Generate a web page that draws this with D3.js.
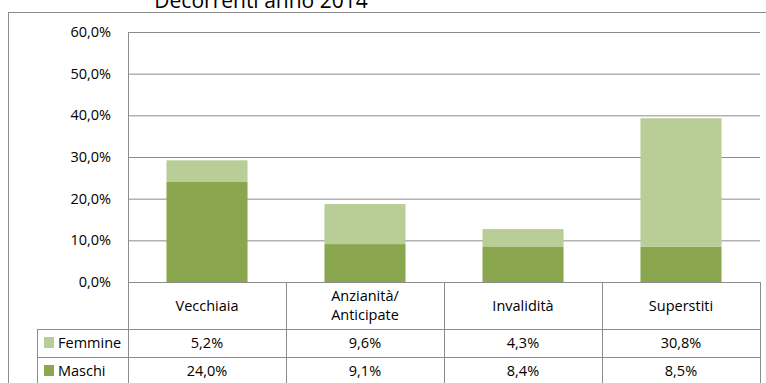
<!DOCTYPE html>
<html>
<head>
<meta charset="utf-8">
<script src="https://cdn.jsdelivr.net/npm/d3@7"></script>
<style>
  html, body { margin: 0; padding: 0; background: #fff; }
  svg text { font-family: "Open Sans", "DejaVu Sans", sans-serif; fill: #000; }
</style>
</head>
<body>
<svg id="chart" width="766" height="383"></svg>
<script>
// Pensioni decorrenti 2014: quota per categoria, suddivisa tra maschi e femmine
const categories = ["Vecchiaia", "Anzianità/\nAnticipate", "Invalidità", "Superstiti"];
const maschi  = [24.0, 9.1, 8.4, 8.5];
const femmine = [5.2, 9.6, 4.3, 30.8];
const yTicks  = [0, 10, 20, 30, 40, 50, 60];
const seriesNames = ["Femmine", "Maschi"];
const titleText = "Decorrenti anno 2014";

const colDark = "#8aa64f";
const colLight = "#b9cd96";
const lineCol = "#8c8c8c";
const fs = 14.5;

const svg = d3.select("#chart");
svg.append("rect").attr("width", 766).attr("height", 383).attr("fill", "#fff");

// outer chart frame (extends past the window edges)
svg.append("rect")
  .attr("x", 8.5).attr("y", 12.5).attr("width", 820).attr("height", 420)
  .attr("fill", "none").attr("stroke", lineCol).attr("stroke-width", 1);

svg.append("text")
  .attr("x", 261).attr("y", 7.5)
  .attr("text-anchor", "middle")
  .attr("font-size", 21)
  .text(titleText);

const plotL = 128, plotR = 760, plotT = 32, plotB = 282;
const fmt = v => d3.format(".1f")(v).replace(".", ",") + "%";

const y = d3.scaleLinear().domain([0, 60]).range([plotB, plotT]);
const x = d3.scaleBand().domain(categories).range([plotL, plotR])
  .paddingInner(0.487).paddingOuter(0.2435);
const col = d3.scaleBand().domain(categories).range([plotL, plotR]).padding(0);

// gridlines + y axis labels
const yAxis = d3.axisLeft(y).tickValues(yTicks).tickSize(-(plotR - plotL)).tickPadding(17).tickFormat(fmt);
const gy = svg.append("g").attr("transform", `translate(${plotL},0)`).call(yAxis);
gy.select(".domain").remove();
gy.selectAll(".tick line").attr("stroke", lineCol).attr("stroke-width", 1);
gy.selectAll(".tick text").attr("font-size", fs).attr("font-family", "Open Sans").attr("fill", "#000");

// vertical axis line
svg.append("line").attr("x1", plotL + 0.5).attr("x2", plotL + 0.5)
  .attr("y1", plotT).attr("y2", plotB).attr("stroke", lineCol);

// stacked bars
const stack = categories.map((c, i) => ({ c, m: maschi[i], f: femmine[i] }));
svg.append("g").selectAll("rect").data(stack).join("rect")
  .attr("x", d => x(d.c)).attr("width", x.bandwidth())
  .attr("y", d => y(d.m)).attr("height", d => y(0) - y(d.m))
  .attr("fill", colDark);
svg.append("g").selectAll("rect").data(stack).join("rect")
  .attr("x", d => x(d.c)).attr("width", x.bandwidth())
  .attr("y", d => y(d.m + d.f)).attr("height", d => y(d.m) - y(d.m + d.f))
  .attr("fill", colLight);

// data table beneath the plot
const tableLeft = 37;
const rowHead = [plotB, 329];
const rowF = [329, 357];
const rowM = [357, 385];
const tbl = svg.append("g").attr("stroke", lineCol).attr("stroke-width", 1).attr("fill", "none");
tbl.append("line").attr("x1", plotL).attr("x2", plotR).attr("y1", plotB + 0.5).attr("y2", plotB + 0.5);
[rowF[0], rowM[0], rowM[1]].forEach(yy => {
  tbl.append("line").attr("x1", tableLeft).attr("x2", plotR).attr("y1", yy + 0.5).attr("y2", yy + 0.5);
});
tbl.append("line").attr("x1", tableLeft + 0.5).attr("x2", tableLeft + 0.5).attr("y1", rowF[0]).attr("y2", 400);
categories.forEach(c => {
  const xx = col(c);
  tbl.append("line").attr("x1", xx + 0.5).attr("x2", xx + 0.5).attr("y1", plotB).attr("y2", 400);
});
tbl.append("line").attr("x1", plotR + 0.5).attr("x2", plotR + 0.5).attr("y1", plotB).attr("y2", 400);

// header row: category names
const head = svg.append("g");
categories.forEach(c => {
  const lines = c.split("\n");
  const cx = col(c) + col.bandwidth() / 2;
  const cy = (rowHead[0] + rowHead[1]) / 2;
  const lh = 19;
  lines.forEach((ln, k) => {
    head.append("text")
      .attr("x", cx)
      .attr("y", cy + (k - (lines.length - 1) / 2) * lh)
      .attr("dy", "0.35em")
      .attr("text-anchor", "middle")
      .attr("font-size", fs)
      .text(ln);
  });
});

// value rows with legend keys
const rows = [
  { name: seriesNames[0], vals: femmine, color: colLight, band: rowF },
  { name: seriesNames[1], vals: maschi, color: colDark, band: rowM }
];
rows.forEach(r => {
  const cy = (r.band[0] + r.band[1]) / 2;
  svg.append("rect").attr("x", 44).attr("y", cy - 6).attr("width", 10).attr("height", 11).attr("fill", r.color);
  svg.append("text").attr("x", 58).attr("y", cy).attr("dy", "0.35em")
    .attr("font-size", fs).text(r.name);
  categories.forEach((c, i) => {
    svg.append("text")
      .attr("x", col(c) + col.bandwidth() / 2).attr("y", cy).attr("dy", "0.35em")
      .attr("text-anchor", "middle").attr("font-size", fs)
      .text(fmt(r.vals[i]));
  });
});
</script>
</body>
</html>
